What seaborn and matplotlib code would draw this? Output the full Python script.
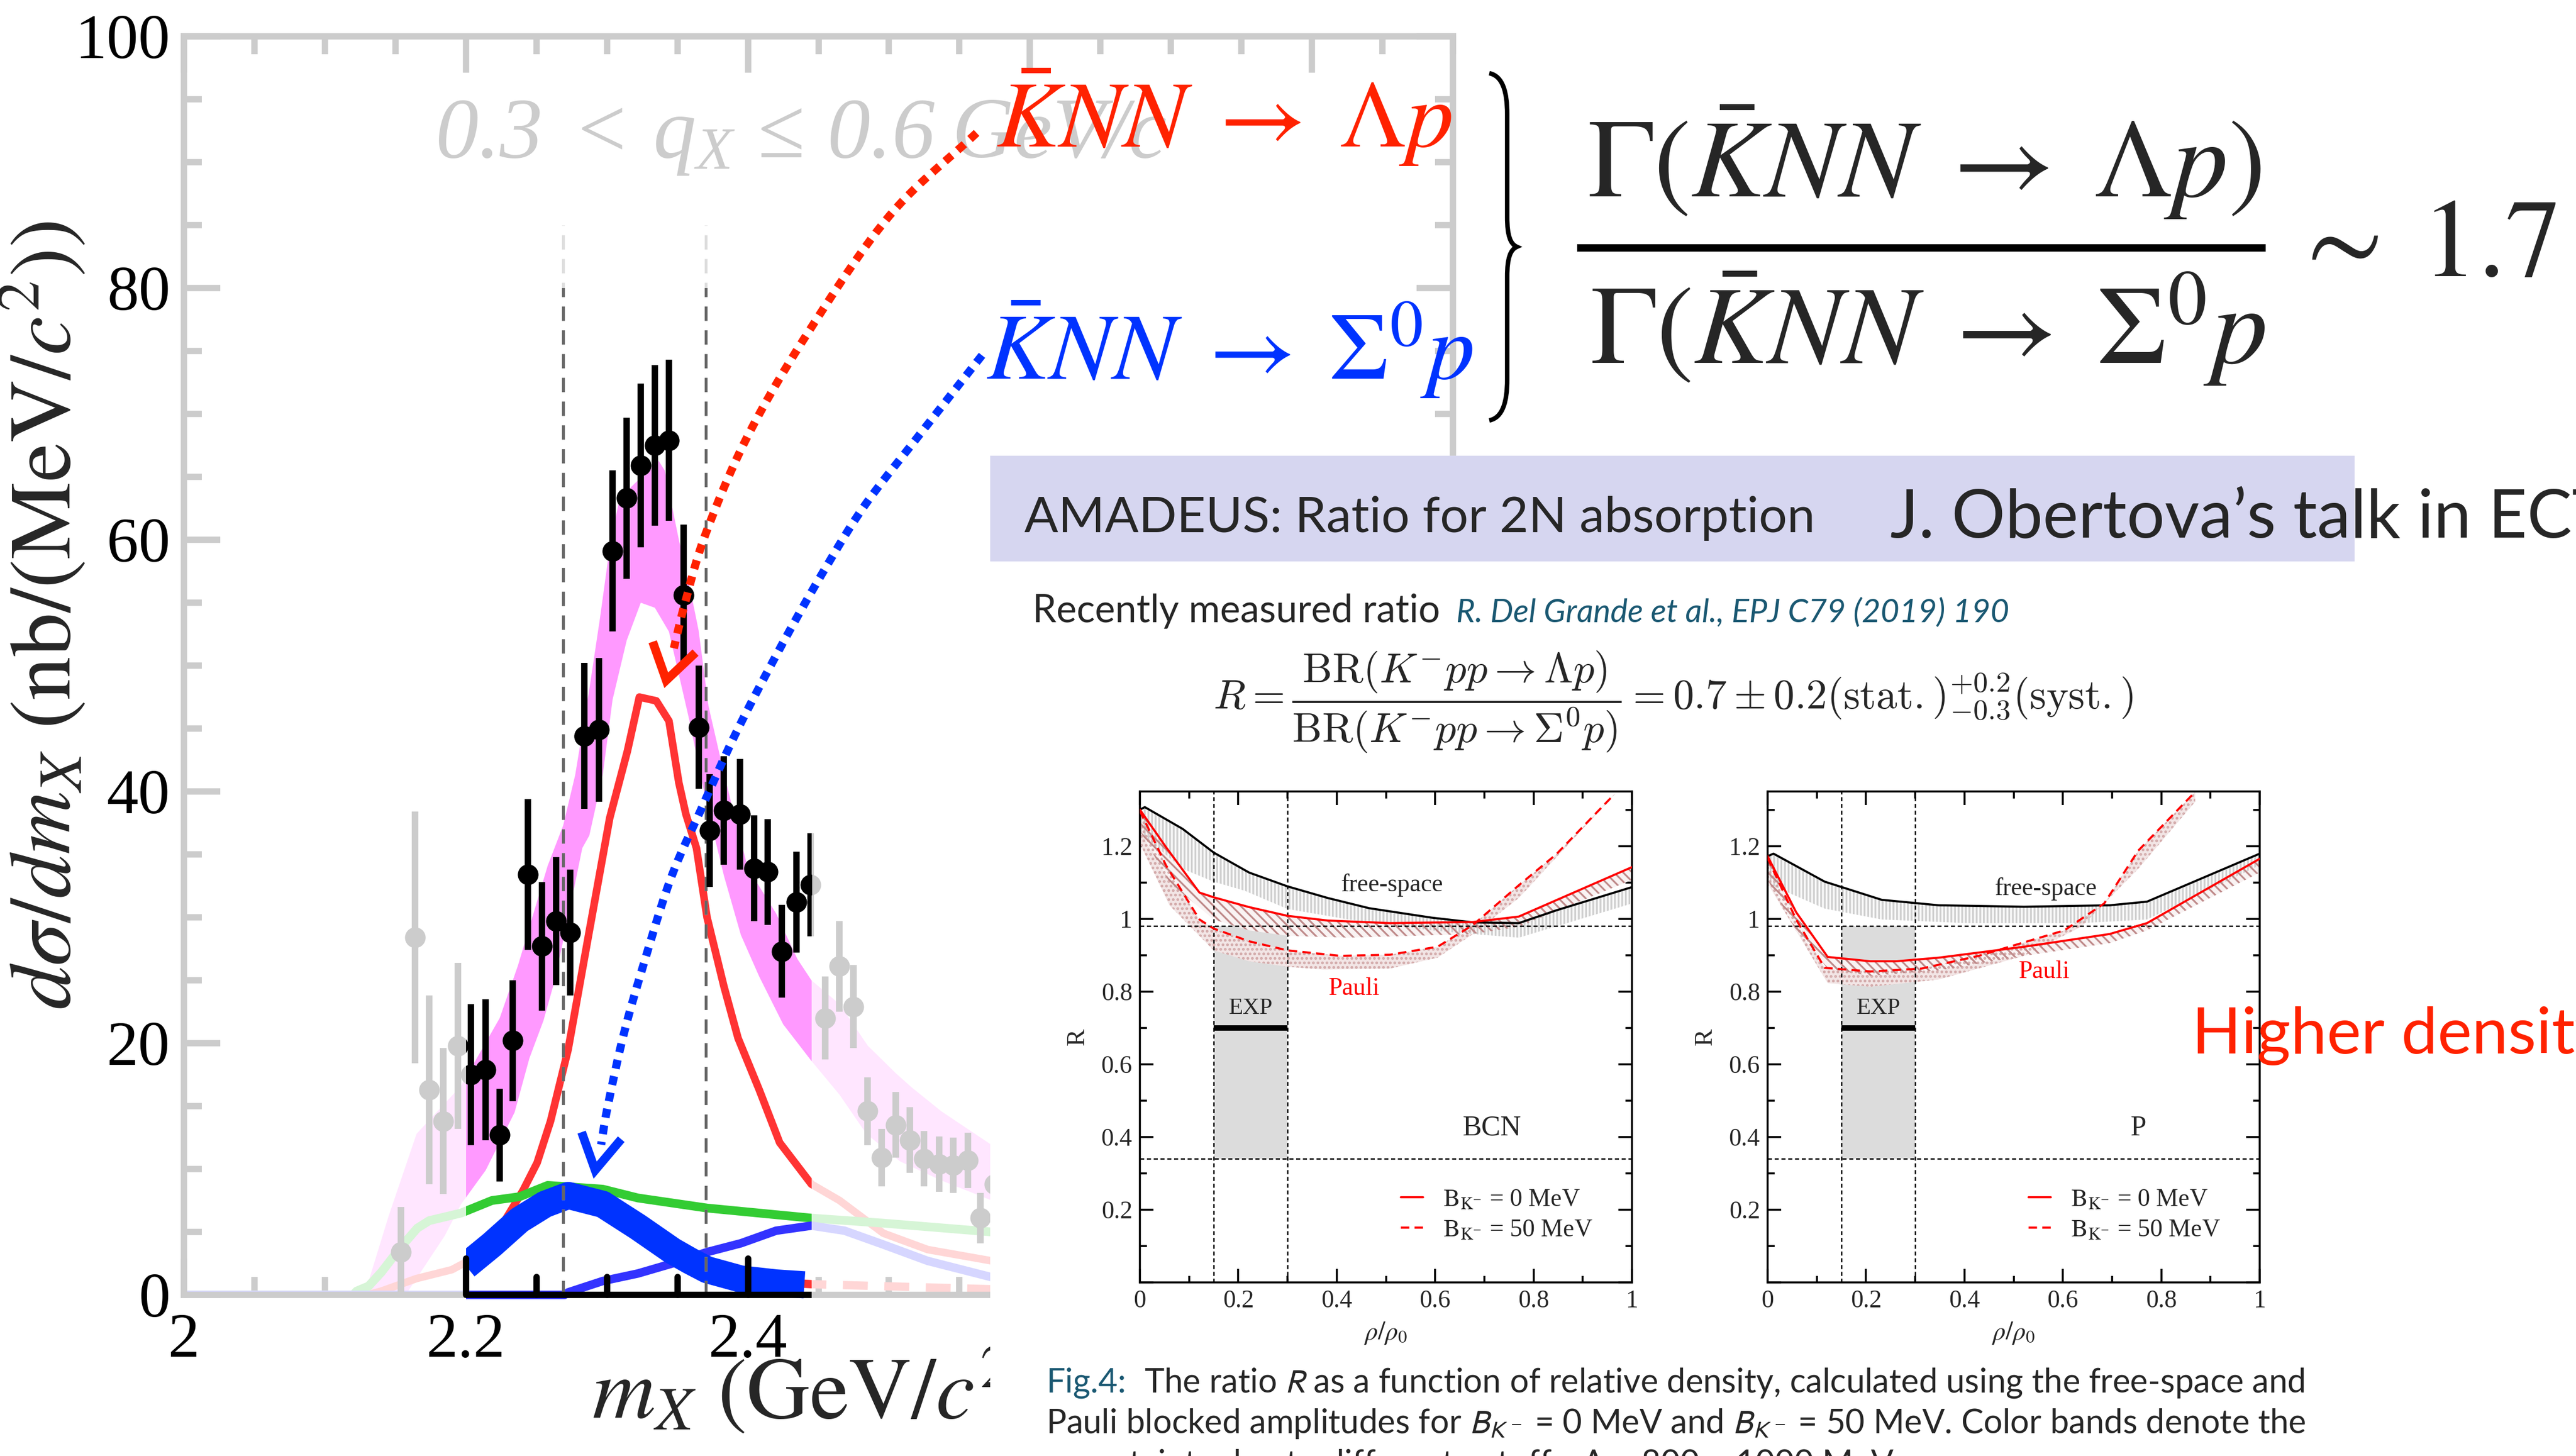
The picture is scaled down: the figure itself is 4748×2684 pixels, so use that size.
import numpy as np
import matplotlib
matplotlib.use("Agg")
import matplotlib.pyplot as plt
import seaborn as sns
from matplotlib.colors import to_rgb
from matplotlib.lines import Line2D
from matplotlib.patches import Rectangle, PathPatch
from matplotlib.path import Path
from matplotlib.ticker import MultipleLocator, FuncFormatter

# ---------------- m_X spectrum, 0.3 < q_X <= 0.6 GeV/c ----------------
mx_points = [2.154, 2.164, 2.174, 2.184, 2.1945,
             2.2035, 2.214, 2.224, 2.233, 2.244, 2.254, 2.264, 2.274, 2.284, 2.2945,
             2.304, 2.314, 2.324, 2.334, 2.344, 2.3545, 2.365, 2.373, 2.383, 2.3945,
             2.4045, 2.414, 2.424, 2.4345, 2.4445,
             2.455, 2.465, 2.475, 2.485, 2.495, 2.505, 2.515, 2.525, 2.5355, 2.5455,
             2.556, 2.565, 2.575]
xsec_points = [3.4, 28.4, 16.3, 13.8, 19.8,
               17.5, 17.9, 12.7, 20.2, 33.4, 27.7, 29.7, 28.8, 44.4, 44.9,
               59.1, 63.3, 65.9, 67.5, 67.9, 55.6, 45.1, 36.9, 38.5, 38.2,
               33.9, 33.6, 27.3, 31.2, 32.6,
               22.0, 26.1, 22.9, 14.6, 10.9, 13.5, 12.3, 10.8, 10.4, 10.3,
               10.7, 6.1, 8.8]
xsec_errors = [3.6, 10.0, 7.5, 5.8, 6.6,
               5.6, 5.6, 3.7, 4.8, 6.0, 5.1, 5.1, 5.0, 5.8, 5.7,
               6.4, 6.4, 6.5, 6.4, 6.4, 5.6, 4.9, 4.5, 4.3, 4.4,
               4.2, 4.2, 3.7, 4.0, 4.1,
               3.3, 3.6, 3.3, 2.7, 2.3, 2.6, 2.6, 2.2, 2.2, 2.2,
               2.2, 2.0, 2.0]

# total fit band (upper / lower edges)
band_up_x = [2.128, 2.145, 2.165, 2.1965, 2.224, 2.237, 2.258, 2.269, 2.2775, 2.2875,
             2.295, 2.302, 2.309, 2.3365, 2.341, 2.351, 2.359, 2.365, 2.372, 2.381,
             2.3905, 2.400, 2.420, 2.435, 2.445, 2.465, 2.485, 2.505, 2.516, 2.537, 2.573]
band_up_y = [0.0, 6.2, 12.8, 16.6, 22.0, 26.2, 34.1, 37.3, 41.3, 48.1,
             53.7, 59.4, 63.3, 66.3, 65.5, 60.0, 56.1, 52.8, 46.8, 42.4,
             38.0, 33.9, 30.3, 26.7, 25.0, 23.1, 19.8, 17.6, 16.5, 14.6, 11.9]
band_lo_x = [2.128, 2.159, 2.185, 2.1965, 2.214, 2.2345, 2.245, 2.255, 2.263, 2.2725,
             2.2825, 2.2875, 2.297, 2.304, 2.314, 2.324, 2.334, 2.344, 2.351, 2.359,
             2.366, 2.3735, 2.383, 2.395, 2.408, 2.425, 2.445, 2.465, 2.484, 2.508, 2.537, 2.573]
band_lo_y = [0.0, 0.3, 4.7, 7.2, 9.9, 14.5, 18.8, 21.8, 25.0, 30.0,
             35.5, 36.5, 41.3, 47.3, 52.0, 55.0, 54.6, 52.7, 49.3, 45.4,
             41.5, 37.7, 33.3, 28.6, 25.3, 21.5, 18.6, 15.9, 12.8, 10.6, 9.1, 7.5]

# K-bar NN -> Lambda p component
lam_x = [2.13, 2.14, 2.165, 2.19, 2.2, 2.22, 2.2405, 2.2505, 2.26, 2.2725, 2.287, 2.302,
         2.3145, 2.323, 2.335, 2.344, 2.351, 2.356, 2.3635, 2.371, 2.383, 2.393, 2.408,
         2.4225, 2.445, 2.465, 2.496, 2.5275, 2.573]
lam_y = [0.0, 0.3, 1.3, 2.0, 2.6, 4.5, 8.3, 10.5, 13.8, 19.5, 28.6, 37.9,
         43.2, 47.5, 47.2, 45.6, 40.7, 38.2, 35.5, 30.0, 24.5, 20.4, 16.3,
         12.1, 8.8, 7.5, 4.9, 3.6, 2.7]
# K-bar NN -> Sigma0 p component
sig_x = [2.2, 2.2185, 2.238, 2.256, 2.2726, 2.297, 2.322, 2.3465, 2.359, 2.371, 2.395, 2.42, 2.44]
sig_y = [2.3, 4.0, 5.95, 7.2, 7.9, 7.2, 5.4, 3.5, 2.7, 2.0, 1.26, 0.95, 0.8]
# background components
bg_green_x = [2.0, 2.12, 2.1225, 2.131, 2.140, 2.1535, 2.1655, 2.174, 2.1965, 2.2185,
              2.238, 2.258, 2.297, 2.322, 2.3465, 2.371, 2.408, 2.445, 2.496, 2.573]
bg_green_y = [0.0, 0.0, 0.3, 0.7, 1.8, 3.75, 5.3, 5.9, 6.5, 7.5,
              7.8, 8.7, 8.4, 7.7, 7.3, 6.9, 6.5, 6.1, 5.7, 5.0]
bg_blue_x = [2.0, 2.27, 2.2725, 2.297, 2.322, 2.3465, 2.371, 2.395, 2.42, 2.445,
             2.4685, 2.496, 2.5275, 2.573]
bg_blue_y = [0.0, 0.0, 0.2, 1.1, 1.7, 2.5, 3.4, 4.1, 5.1, 5.5, 5.1, 4.0, 2.7, 1.4]
bg_red_x = [2.438, 2.445, 2.573]
bg_red_y = [0.9, 0.85, 0.45]

mx_window = (2.2, 2.445)          # highlighted fit window
mx_cuts = [2.269, 2.370]          # dashed mass cuts

# ---------------- R(rho/rho0) panels ----------------
exp_rho = (0.15, 0.30)
exp_R, exp_R_lo, exp_R_hi = 0.70, 0.34, 0.98

bcn_free_x = [0.0, 0.01, 0.087, 0.150, 0.222, 0.300, 0.382, 0.466, 0.593, 0.677, 0.770, 0.846, 1.0]
bcn_free_y = [1.300, 1.307, 1.247, 1.182, 1.127, 1.089, 1.057, 1.029, 1.003, 0.990, 0.988, 1.023, 1.087]
bcn_free_lo_x = [0.0, 0.087, 0.150, 0.213, 0.300, 0.424, 0.593, 0.677, 0.770, 1.0]
bcn_free_lo_y = [1.237, 1.137, 1.102, 1.077, 1.027, 0.998, 0.968, 0.958, 0.948, 1.042]
bcn_pauli0_x = [0.0, 0.053, 0.121, 0.150, 0.222, 0.300, 0.382, 0.508, 0.677, 0.770, 1.0]
bcn_pauli0_y = [1.300, 1.197, 1.072, 1.059, 1.032, 1.008, 0.995, 0.988, 0.991, 1.006, 1.142]
bcn_pauli0_lo_x = [0.0, 0.06, 0.150, 0.222, 0.300, 0.424, 0.677, 0.770, 1.0]
bcn_pauli0_lo_y = [1.242, 1.100, 0.998, 0.968, 0.953, 0.948, 0.958, 0.978, 1.107]
bcn_pauli50_x = [0.0, 0.053, 0.121, 0.150, 0.222, 0.300, 0.407, 0.508, 0.605, 0.677, 0.770, 0.846, 0.964]
bcn_pauli50_y = [1.297, 1.147, 0.998, 0.973, 0.938, 0.913, 0.898, 0.901, 0.923, 0.983, 1.092, 1.177, 1.342]
bcn_pauli50_lo_x = [0.0, 0.06, 0.150, 0.222, 0.300, 0.374, 0.508, 0.605, 0.677, 0.770, 0.968]
bcn_pauli50_lo_y = [1.207, 1.037, 0.913, 0.883, 0.868, 0.860, 0.863, 0.893, 0.958, 1.057, 1.347]

p_free_x = [0.0, 0.012, 0.116, 0.232, 0.348, 0.521, 0.695, 0.771, 1.0]
p_free_y = [1.172, 1.179, 1.102, 1.052, 1.037, 1.033, 1.037, 1.047, 1.179]
p_free_lo_x = [0.0, 0.116, 0.232, 0.406, 0.637, 0.771, 1.0]
p_free_lo_y = [1.097, 1.028, 0.998, 0.988, 0.988, 0.998, 1.147]
p_pauli0_x = [0.0, 0.058, 0.122, 0.209, 0.261, 0.348, 0.521, 0.695, 0.771, 1.0]
p_pauli0_y = [1.172, 1.018, 0.895, 0.883, 0.883, 0.893, 0.923, 0.958, 0.988, 1.165]
p_pauli0_lo_x = [0.0, 0.058, 0.122, 0.209, 0.348, 0.521, 0.695, 0.771, 1.0]
p_pauli0_lo_y = [1.107, 0.968, 0.863, 0.843, 0.858, 0.898, 0.933, 0.968, 1.127]
p_pauli50_x = [0.0, 0.058, 0.116, 0.209, 0.313, 0.429, 0.603, 0.684, 0.753, 0.869]
p_pauli50_y = [1.167, 0.998, 0.865, 0.855, 0.863, 0.898, 0.968, 1.042, 1.187, 1.349]
p_pauli50_lo_x = [0.0, 0.122, 0.209, 0.348, 0.521, 0.637, 0.753, 0.869]
p_pauli50_lo_y = [1.097, 0.823, 0.813, 0.833, 0.898, 0.978, 1.137, 1.322]

# ---------------- style ----------------
sns.set_style("ticks")
plt.rcParams["font.family"] = ["Liberation Serif", "DejaVu Serif"]
plt.rcParams["mathtext.fontset"] = "stix"
# the "custom" math set is an all-italic serif, used for the kinematic-cut label
plt.rcParams["mathtext.rm"] = "Liberation Serif:italic"
plt.rcParams["mathtext.it"] = "Liberation Serif:italic"
plt.rcParams["mathtext.bf"] = "Liberation Serif:bold:italic"
plt.rcParams["mathtext.fallback"] = "stix"
plt.rcParams["hatch.linewidth"] = 1.2

W, H, DPI = 4748, 2684, 200
SANS = ["Lato", "DejaVu Sans"]
RED_T, BLUE_T, TEAL = "#ff2200", "#0033ff", "#1a5872"
MAG, C_RED, C_GRN, C_BLU, C_SIG = "#ff99ff", "#ff3333", "#33cc33", "#3333ff", "#0033ff"
GRID_GRAY = "#cccccc"


def tint(c, a):
    r = np.array(to_rgb(c))
    return tuple(1 - a * (1 - r))


fig = plt.figure(figsize=(W / DPI, H / DPI), dpi=DPI)

# ---------------- left: m_X spectrum ----------------
ax = fig.add_axes([339 / W, 1 - 2387 / H, (2678 - 339) / W, (2387 - 67) / H])
ax.set_xlim(2.0, 2.9)
ax.set_ylim(0, 100)
win = Rectangle((mx_window[0], -5), mx_window[1] - mx_window[0], 85, transform=ax.transData)

bx = np.r_[band_up_x, band_lo_x[::-1]]
by = np.r_[band_up_y, band_lo_y[::-1]]
ax.fill(bx, by, color=tint(MAG, 0.25), lw=0, zorder=1)
ax.fill(bx, by, color=MAG, lw=0, zorder=1.1)[0].set_clip_path(win)


def two_tone(x, y, color, lw, z, ls="-", faded=True):
    if faded:
        sns.lineplot(x=x, y=y, ax=ax, color=tint(color, 0.2), linewidth=lw, linestyle=ls,
                     sort=False, estimator=None, zorder=z, solid_capstyle="butt")
    sns.lineplot(x=x, y=y, ax=ax, color=color, linewidth=lw, linestyle=ls,
                 sort=False, estimator=None, zorder=z + 1, solid_capstyle="butt")
    ax.lines[-1].set_clip_path(win)


two_tone(bg_red_x, bg_red_y, C_RED, 5.5, 2.0, ls=(0, (3, 2)))
two_tone(lam_x, lam_y, C_RED, 5.0, 2.1)
two_tone(bg_green_x, bg_green_y, C_GRN, 5.8, 2.2)
two_tone(bg_blue_x, bg_blue_y, C_BLU, 5.6, 2.3)
two_tone(sig_x, sig_y, C_SIG, 18.0, 2.4, faded=False)

for xc in mx_cuts:
    ax.plot([xc, xc], [0, 85], color="#dddddd", lw=1.9, ls=(0, (5, 3.3)), zorder=4.5)
    ax.plot([xc, xc], [0, 85], color="#666666", lw=1.9, ls=(0, (5, 3.3)), zorder=4.6)[0].set_clip_path(win)

ax.errorbar(mx_points, xsec_points, yerr=xsec_errors, fmt="o", color=GRID_GRAY, ms=13.7,
            elinewidth=4.4, capsize=0, mew=0, zorder=5)
eb = ax.errorbar(mx_points, xsec_points, yerr=xsec_errors, fmt="o", color="k", ms=13.7,
                 elinewidth=4.2, capsize=0, mew=0, zorder=5.5)
eb[0].set_clip_path(win)
for coll in eb[2]:
    coll.set_clip_path(win)

for sp in ax.spines.values():
    sp.set_color(GRID_GRAY)
    sp.set_linewidth(4.2)
    sp.set_visible(True)
ax.xaxis.set_major_locator(MultipleLocator(0.2))
ax.xaxis.set_minor_locator(MultipleLocator(0.05))
ax.yaxis.set_major_locator(MultipleLocator(20))
ax.yaxis.set_minor_locator(MultipleLocator(5))
fmt = FuncFormatter(lambda v, p: "%g" % round(v, 3))
ax.xaxis.set_major_formatter(fmt)
ax.yaxis.set_major_formatter(fmt)
ax.tick_params(which="both", direction="in", top=True, right=True, color=GRID_GRAY,
               width=4.2, labelsize=42, labelcolor="k")
ax.tick_params(which="major", length=24)
ax.tick_params(which="minor", length=12)
ax.tick_params(axis="y", pad=9)
ax.tick_params(axis="x", pad=12)

# emphasised axis segment inside the fit window
ax.plot(list(mx_window), [0, 0], color="k", lw=4.2, clip_on=False, zorder=6, solid_capstyle="butt")
ticks_in = [t for t in np.r_[ax.xaxis.get_majorticklocs(), ax.xaxis.get_minorticklocs()]
            if mx_window[0] - 1e-9 <= t <= mx_window[1]]
for t in ticks_in:
    is_major = abs(t / 0.2 - round(t / 0.2)) < 1e-6
    ax.plot([t, t], [0, 0.0289 if is_major else 0.0144], color="k", lw=4.2,
            transform=ax.get_xaxis_transform(), clip_on=False, zorder=6)

ax.set_ylabel(r"$d\sigma/dm_X\ (\mathrm{nb}/(\mathrm{MeV}/c^2))$", fontsize=58)
ax.yaxis.set_label_coords(-0.075, 0.54)
ax.set_xlabel(r"$m_X\ (\mathrm{GeV}/c^2)$", fontsize=58, ha="left")
ax.xaxis.set_label_coords((1091 - 339) / 2339, (2387 - 2615) / 2320)
ax.xaxis.label.set_verticalalignment("baseline")

ax.text(2.178, 90.4, r"$0.3\;<\,q_X\,\leq\,0.6\;GeV/c$", color=GRID_GRAY, fontsize=57,
        math_fontfamily="custom", zorder=0.5)

# ---------------- overlay in pixel coordinates ----------------
ov = fig.add_axes([0, 0, 1, 1], zorder=10)
ov.set_xlim(0, W)
ov.set_ylim(H, 0)
ov.axis("off")
ov.patch.set_alpha(0)
ov.add_patch(Rectangle((1826, 841), W - 1826, H - 841, color="white", zorder=0))
ov.add_patch(Rectangle((1826, 841), 4338 - 1826, 1033 - 841, color="#d6d6f0", zorder=1))


def smooth(pts, n=14):
    p = np.asarray(pts, float)
    p = np.vstack([2 * p[0] - p[1], p, 2 * p[-1] - p[-2]])
    out = []
    for i in range(1, len(p) - 2):
        p0, p1, p2, p3 = p[i - 1], p[i], p[i + 1], p[i + 2]
        for t in np.linspace(0, 1, n, endpoint=False):
            out.append(0.5 * ((2 * p1) + (-p0 + p2) * t + (2 * p0 - 5 * p1 + 4 * p2 - p3) * t * t
                              + (-p0 + 3 * p1 - 3 * p2 + p3) * t ** 3))
    out.append(p[-2])
    return np.array(out)


red_arrow = smooth([(1800, 245), (1640, 397), (1490, 612), (1378, 804), (1301, 983),
                    (1263, 1110), (1242, 1195)])
blue_arrow = smooth([(1810, 655), (1700, 795), (1595, 930), (1518, 1053), (1442, 1187),
                     (1359, 1346), (1295, 1486), (1238, 1615), (1190, 1765), (1150, 1905),
                     (1120, 2040), (1108, 2110)])
ov.plot(red_arrow[:, 0], red_arrow[:, 1], color=RED_T, lw=5.4, ls=(0, (1.1, 0.95)), zorder=3)
ov.plot([1203, 1228, 1282], [1183, 1254, 1203], color=RED_T, lw=5.8, zorder=3,
        solid_joinstyle="miter", solid_capstyle="butt")
ov.plot(blue_arrow[:, 0], blue_arrow[:, 1], color=BLUE_T, lw=5.4, ls=(0, (1.1, 0.95)), zorder=3)
ov.plot([1072, 1097, 1145], [2087, 2157, 2100], color=BLUE_T, lw=5.8, zorder=3,
        solid_joinstyle="miter", solid_capstyle="butt")

ov.text(1836, 271, r"$\bar{K}NN\;\rightarrow\;\Lambda p$", color=RED_T, fontsize=63, va="baseline", zorder=4)
ov.text(1817, 699, r"$\bar{K}NN\;\rightarrow\;\Sigma^0 p$", color=BLUE_T, fontsize=63, va="baseline", zorder=4)

M, C4, L = Path.MOVETO, Path.CURVE4, Path.LINETO
brace = Path([(2745, 135), (2770, 140), (2778, 170), (2778, 210), (2778, 400),
              (2778, 435), (2784, 450), (2796, 455), (2784, 460), (2778, 475), (2778, 510),
              (2778, 700), (2778, 740), (2770, 770), (2745, 775)],
             [M, C4, C4, C4, L, C4, C4, C4, C4, C4, C4, L, C4, C4, C4])
ov.add_patch(PathPatch(brace, fill=False, lw=3.0, color="k", zorder=4))

ov.text(2927, 363, r"$\Gamma(\bar{K}NN\;\rightarrow\;\Lambda p)$", fontsize=74, va="baseline", zorder=4)
ov.plot([2907, 4176], [457, 457], color="k", lw=4.9, solid_capstyle="butt", zorder=4)
ov.text(2932, 670, r"$\Gamma(\bar{K}NN\;\rightarrow\;\Sigma^0 p$", fontsize=74, va="baseline", zorder=4)
ov.text(4222, 509, r"$\sim\;1.7$", fontsize=74, va="baseline", zorder=4)

ov.text(1888, 981, "AMADEUS: Ratio for 2N absorption", family=SANS, fontsize=33.2, va="baseline", zorder=4)
ov.text(3484, 990, "J. Obertova\u2019s talk in ECT*", family=SANS, fontsize=44.5, va="baseline", zorder=4)
ov.text(1903, 1147, "Recently measured ratio", family=SANS, fontsize=25.4, va="baseline", zorder=4)
ov.text(2684, 1147, "R. Del Grande et al., EPJ C79 (2019) 190", family=SANS, style="italic",
        fontsize=21.5, color=TEAL, va="baseline", zorder=4)
ov.text(2236, 1294,
        r"$R = \dfrac{\mathrm{BR}(K^{-}pp \rightarrow \Lambda p)}{\mathrm{BR}(K^{-}pp \rightarrow \Sigma^{0}p)}"
        r" = 0.7 \pm 0.2(\mathrm{stat.})^{+0.2}_{-0.3}(\mathrm{syst.})$",
        fontsize=27.8, math_fontfamily="cm", va="center", zorder=4)

cap_kw = dict(family=SANS, fontsize=22.2, va="baseline", zorder=4, math_fontfamily="stixsans")
ov.text(1928, 2567, "Fig.4:", color=TEAL, **cap_kw)
ov.text(2109, 2567, "The ratio $R$ as a function of relative density, calculated using the free-space and", **cap_kw)
ov.text(1928, 2642, "Pauli blocked amplitudes for $B_{K^-}$ = 0 MeV and $B_{K^-}$ = 50 MeV. Color bands denote the", **cap_kw)
ov.text(1928, 2717, "uncertainty due to different cutoffs, \u039b = 800 \u2212 1000 MeV.", **cap_kw)

fig.text(4040 / W, 1 - 1942 / H, "Higher density", family=SANS, fontsize=43, color=RED_T,
         va="baseline", zorder=20)


# ---------------- right: R vs rho/rho0 ----------------
def band(axp, xu, yu, xl, yl, color, hatch, a):
    xs = np.r_[xu, xl[::-1]]
    ys = np.r_[yu, yl[::-1]]
    axp.fill(xs, ys, facecolor=tint(color, a), edgecolor="none", lw=0, zorder=1)
    axp.fill(xs, ys, facecolor="none", edgecolor=color, hatch=hatch, lw=0, zorder=1.2)


def panel(left, fr, frl, p0, p0l, p50, p50l, tag, lab):
    axp = fig.add_axes([left / W, 1 - 2364 / H, 907 / W, (2364 - 1459) / H], zorder=11)
    axp.set_xlim(0, 1)
    axp.set_ylim(0, 1.35)
    axp.add_patch(Rectangle((exp_rho[0], exp_R_lo), exp_rho[1] - exp_rho[0], exp_R_hi - exp_R_lo,
                            color="#dcdcdc", lw=0, zorder=0.5))
    band(axp, fr[0], fr[1], frl[0], frl[1], "#cfcfcf", "|||||", 0.12)
    band(axp, p50[0], p50[1], p50l[0], p50l[1], "#d2a8a8", "....", 0.3)
    band(axp, p0[0], p0[1], p0l[0], p0l[1], "#bf8a8a", "\\\\\\\\", 0.1)
    for v in exp_rho:
        axp.axvline(v, color="k", lw=0.9, ls=(0, (3, 2)), zorder=2)
    for v in (exp_R_lo, exp_R_hi):
        axp.axhline(v, color="k", lw=0.9, ls=(0, (3, 2)), zorder=2)
    axp.plot(list(exp_rho), [exp_R, exp_R], color="k", lw=3.6, zorder=3, solid_capstyle="butt")
    sns.lineplot(x=fr[0], y=fr[1], ax=axp, color="k", linewidth=1.4, sort=False, estimator=None, zorder=4)
    sns.lineplot(x=p0[0], y=p0[1], ax=axp, color="#ff0000", linewidth=1.4, sort=False, estimator=None, zorder=4)
    sns.lineplot(x=p50[0], y=p50[1], ax=axp, color="#ff0000", linewidth=1.4, linestyle=(0, (4, 2.5)),
                 sort=False, estimator=None, zorder=4)
    axp.text(0.225, 0.753, "EXP", ha="center", va="center", fontsize=15.5, zorder=5)
    axp.text(lab["free"][0], lab["free"][1], "free-space", ha="center", va="center", fontsize=16.5, zorder=5)
    axp.text(lab["pauli"][0], lab["pauli"][1], "Pauli", color="#ff0000", ha="center", va="center",
             fontsize=16.5, zorder=5)
    axp.text(lab["tag"][0], lab["tag"][1], tag, ha="center", va="center", fontsize=19, zorder=5)
    handles = [Line2D([], [], color="#ff0000", lw=1.4),
               Line2D([], [], color="#ff0000", lw=1.4, ls=(0, (4, 2.5)))]
    axp.legend(handles, [r"$\mathrm{B}_{\mathrm{K}^{-}}$ = 0 MeV", r"$\mathrm{B}_{\mathrm{K}^{-}}$ = 50 MeV"],
               loc="center left", bbox_to_anchor=(0.53, 0.137), frameon=False, fontsize=16.5,
               handlelength=0.9, handletextpad=0.8, labelspacing=0.3, borderpad=0, borderaxespad=0)
    for sp in axp.spines.values():
        sp.set_color("k")
        sp.set_linewidth(1.3)
        sp.set_visible(True)
    axp.xaxis.set_major_locator(MultipleLocator(0.2))
    axp.xaxis.set_minor_locator(MultipleLocator(0.1))
    axp.yaxis.set_major_locator(MultipleLocator(0.2))
    axp.yaxis.set_minor_locator(MultipleLocator(0.1))
    axp.xaxis.set_major_formatter(FuncFormatter(lambda v, p: "%g" % round(v, 3)))
    axp.yaxis.set_major_formatter(FuncFormatter(lambda v, p: "" if abs(v) < 1e-9 else "%g" % round(v, 3)))
    axp.tick_params(which="both", direction="in", top=True, right=True, color="k", width=1.3,
                    labelsize=16.5, pad=5)
    axp.tick_params(which="major", length=9)
    axp.tick_params(which="minor", length=4.5)
    axp.set_xlabel(r"$\rho/\rho_0$", fontsize=17, labelpad=5)
    axp.set_ylabel("R", fontsize=17, labelpad=8)
    return axp


panel(2101, (bcn_free_x, bcn_free_y), (bcn_free_lo_x, bcn_free_lo_y),
      (bcn_pauli0_x, bcn_pauli0_y), (bcn_pauli0_lo_x, bcn_pauli0_lo_y),
      (bcn_pauli50_x, bcn_pauli50_y), (bcn_pauli50_lo_x, bcn_pauli50_lo_y), "BCN",
      {"free": (0.513, 1.092), "pauli": (0.435, 0.808), "tag": (0.715, 0.424)})
panel(3258, (p_free_x, p_free_y), (p_free_lo_x, p_free_lo_y),
      (p_pauli0_x, p_pauli0_y), (p_pauli0_lo_x, p_pauli0_lo_y),
      (p_pauli50_x, p_pauli50_y), (p_pauli50_lo_x, p_pauli50_lo_y), "P",
      {"free": (0.565, 1.082), "pauli": (0.562, 0.853), "tag": (0.753, 0.424)})

fig.savefig("out.png", dpi=DPI)
